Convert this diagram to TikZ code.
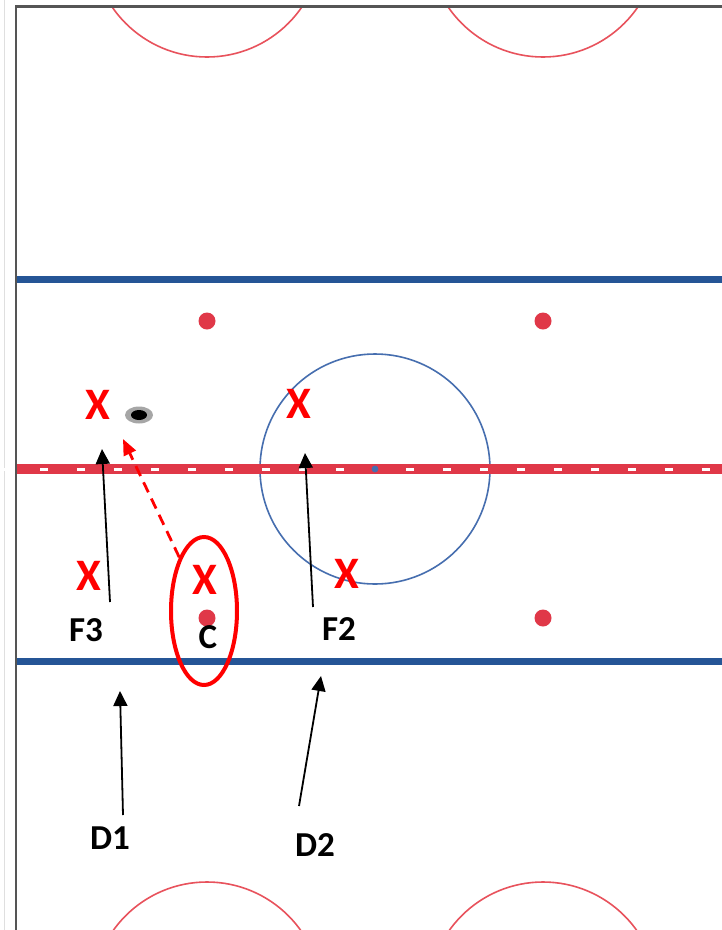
\documentclass[tikz,border=0pt]{standalone}
\usepackage{fontspec}
\setmainfont{Carlito}
\usetikzlibrary{arrows.meta,positioning,shapes.geometric}
\definecolor{bluelinec}{RGB}{37,85,150}
\definecolor{redlinec}{RGB}{224,56,72}
\definecolor{circlec}{RGB}{70,110,175}
\definecolor{arcc}{RGB}{232,82,92}
\definecolor{boardc}{RGB}{85,85,85}

\begin{document}
\begin{tikzpicture}[x=1pt,y=-1pt,
    player/.style={text=red,inner sep=0pt,font=\fontsize{45}{45}\selectfont\bfseries},
    tag/.style={inner sep=0pt,font=\fontsize{35}{35}\selectfont\bfseries},
    pointer/.style={-{Triangle[length=15pt,width=14pt]},line width=1.8pt},
    passline/.style={-{Triangle[length=16pt,width=13pt]},red,line width=2.8pt,dash pattern=on 11pt off 7pt}]
    \useasboundingbox (0,0) rectangle (722,930);
    \fill[white] (0,0) rectangle (722,930);
    % boards
    \draw[gray!25,line width=1pt] (4,0) -- (4,930);
    \begin{scope}
        \clip (16,6) rectangle (722,930);
        % end zone circles
        \draw[arcc,line width=1.6pt] (207,-58) circle[radius=115];
        \draw[arcc,line width=1.6pt] (543,-58) circle[radius=115];
        \draw[arcc,line width=1.6pt] (207,997) circle[radius=115];
        \draw[arcc,line width=1.6pt] (543,997) circle[radius=115];
    \end{scope}
    \draw[boardc,line width=2.5pt] (16,930) -- (16,6.5) -- (722,6.5);
    % blue lines
    \draw[bluelinec,line width=7pt] (17,279) -- (722,279);
    \draw[bluelinec,line width=7pt] (17,661) -- (722,661);
    % centre circle and red line
    \draw[circlec,line width=1.6pt] (375,469) circle[radius=115];
    \draw[redlinec,line width=9.5pt] (17,469) -- (722,469);
    \foreach \k in {0,...,9} {
        \fill[white] (375-35-37*\k-4,467.5) rectangle +(8,3);
        \fill[white] (375+35+37*\k-4,467.5) rectangle +(8,3);
    }
    \fill[circlec] (375,469) circle[radius=3.4];
    % faceoff dots
    \foreach \px/\py in {207/321,543/321,207/618,543/618}
        \fill[redlinec] (\px,\py) circle[radius=8.5];
    % puck
    \fill[gray!70] (139,415) ellipse[x radius=14,y radius=8.5];
    \fill[black] (139,415) ellipse[x radius=8,y radius=5];
    % players
    \node[player] (xf3) at (98,405) {X};
    \node[player] (xf2) at (299,404) {X};
    \node[player] (xd1) at (88.5,576) {X};
    \node[player] (xc) at (205,579.5) {X};
    \node[player] (xd2) at (347,574) {X};
    \node[draw=red,line width=4pt,ellipse,minimum width=66pt,minimum height=148pt] (cring) at (204,611) {};
    % labels
    \node[tag] (f3) at (86,630) {F3};
    \node[tag] (c) at (208,637) {C};
    \node[tag] (f2) at (339,629) {F2};
    \node[tag] (d1) at (110,838) {D1};
    \node[tag] (d2) at (315,845) {D2};
    % arrows
    \coordinate (f3tail) at (110,602);
    \coordinate (f3head) at (102,449);
    \coordinate (f2tail) at (313,607);
    \coordinate (f2head) at (305,453);
    \coordinate (d1tail) at (123,815);
    \coordinate (d1head) at (120,691);
    \coordinate (d2tail) at (299,806);
    \coordinate (d2head) at (321,676);
    \coordinate (passhead) at (123,439);
    \draw[pointer] (f3tail) -- (f3head);
    \draw[pointer] (f2tail) -- (f2head);
    \draw[pointer] (d1tail) -- (d1head);
    \draw[pointer] (d2tail) -- (d2head);
    \draw[passline] (cring.north west) -- (passhead);
\end{tikzpicture}
\end{document}
